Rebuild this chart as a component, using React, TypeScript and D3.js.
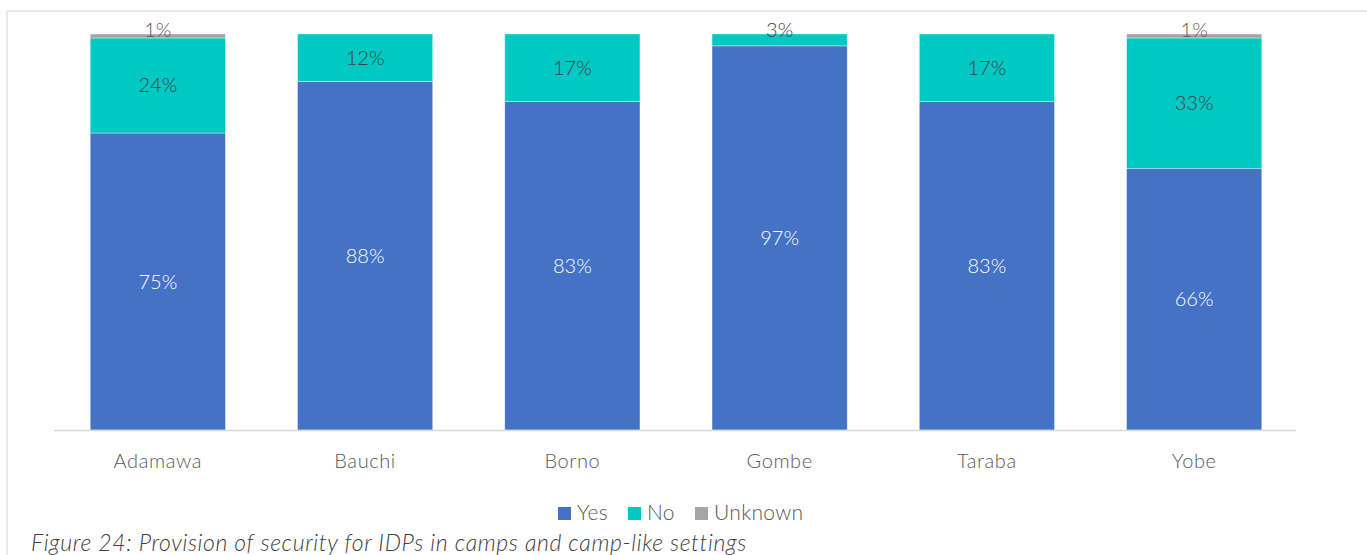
import React from "react";
import * as d3 from "d3";

const categories = ["Adamawa", "Bauchi", "Borno", "Gombe", "Taraba", "Yobe"];
const yesValues = [75, 88, 83, 97, 83, 66];
const noValues = [24, 12, 17, 3, 17, 33];
const unknownValues = [1, 0, 0, 0, 0, 1];
const seriesNames = ["Yes", "No", "Unknown"];
const seriesColors = ["#4472C4", "#00C8C3", "#A5A5A5"];
const labelColors = ["#ffffff", "#404040", "#595959"];
const caption = "Figure 24: Provision of security for IDPs in camps and camp-like settings";

const W = 1367;
const H = 555;
const FONT = "'Lato', 'Open Sans', sans-serif";

export default function App() {
  const plotLeft = 54;
  const plotRight = 1296;
  const plotTop = 34;
  const plotBottom = 430;

  const x = d3
    .scaleBand<string>()
    .domain(categories)
    .range([plotLeft + 1, plotRight + 1])
    .paddingInner(72 / 207)
    .paddingOuter(0.17);
  const y = d3.scaleLinear().domain([0, 100]).range([plotBottom, plotTop]);

  const rows = categories.map((c, i) => ({
    cat: c,
    Yes: yesValues[i],
    No: noValues[i],
    Unknown: unknownValues[i],
  }));
  const stack = d3.stack<any>().keys(seriesNames)(rows);

  return (
    <svg width={W} height={H} style={{ position: "absolute", left: 0, top: 0, background: "#fff" }}>
      <rect x={0} y={0} width={W} height={H} fill="#fff" />
      <line x1={7} x2={W} y1={11} y2={11} stroke="#e6e8f3" strokeWidth={2} />
      <line x1={7} x2={7} y1={11} y2={H} stroke="#e6e8f3" strokeWidth={2} />
      {stack.map((s, si) => (
        <g key={s.key}>
          {s.map((d, i) => {
            const v = d[1] - d[0];
            if (v <= 0) return null;
            const bx = x(categories[i])!;
            const y0 = y(d[0]);
            const y1 = y(d[1]);
            const h = y0 - y1;
            let ly = (y0 + y1) / 2;
            if (h < 20) ly = y1 - 4;
            return (
              <g key={i}>
                <rect
                  x={bx}
                  y={y1}
                  width={x.bandwidth()}
                  height={h}
                  fill={seriesColors[si]}
                  stroke="#ffffff"
                  strokeOpacity={0.45}
                  strokeWidth={0.8}
                />
                <text
                  x={bx + x.bandwidth() / 2}
                  y={ly}
                  dy="0.35em"
                  textAnchor="middle"
                  fontFamily={FONT}
                  fontWeight={300}
                  fontSize={20}
                  fill={labelColors[si]}
                >
                  {v}%
                </text>
              </g>
            );
          })}
        </g>
      ))}
      <line x1={plotLeft} x2={plotRight} y1={plotBottom + 0.5} y2={plotBottom + 0.5} stroke="#d9d9d9" strokeWidth={1.5} />
      {categories.map((c) => (
        <text
          key={c}
          x={x(c)! + x.bandwidth() / 2}
          y={468}
          textAnchor="middle"
          fontFamily={FONT}
          fontWeight={300}
          fontSize={20}
          letterSpacing={0.6}
          fill="#595959"
        >
          {c}
        </text>
      ))}
      {(() => {
        const items = [
          { x: 558, tx: 577 },
          { x: 628, tx: 647 },
          { x: 695, tx: 714 },
        ];
        return seriesNames.map((n, i) => (
          <g key={n}>
            <rect x={items[i].x} y={507} width={13} height={13} fill={seriesColors[i]} />
            <text x={items[i].tx} y={520} fontFamily={FONT} fontWeight={300} fontSize={21} letterSpacing={0.3} fill="#595959">
              {n}
            </text>
          </g>
        ));
      })()}
      <text x={31} y={551} fontFamily={FONT} fontStyle="italic" fontWeight={300} fontSize={23} letterSpacing={0.62} fill="#404040">
        {caption}
      </text>
    </svg>
  );
}
